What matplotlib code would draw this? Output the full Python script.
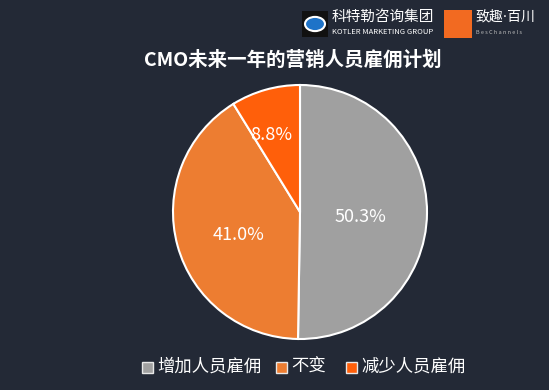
import matplotlib.pyplot as plt
from matplotlib.patches import Rectangle, Circle

plt.rcParams['font.family'] = ['Noto Sans CJK SC', 'DejaVu Sans']

# Data
categories = ["增加人员雇佣", "不变", "减少人员雇佣"]
shares = [50.3, 41.0, 8.8]
colors = ["#A0A0A0", "#ED7D31", "#FF5F0A"]
title = "CMO未来一年的营销人员雇佣计划"

BG = "#232936"
W, H = 549, 390

fig = plt.figure(figsize=(W / 100, H / 100), dpi=100, facecolor=BG)

def px(x, y):
    return x / W, 1 - y / H

# Pie axes placed in pixel space
cx, cy, r = 300, 212, 127
ax = fig.add_axes([(cx - r) / W, 1 - (cy + r) / H, 2 * r / W, 2 * r / H])
ax.set_facecolor(BG)
wedges, _ = ax.pie(
    shares,
    colors=colors,
    startangle=90,
    counterclock=False,
    wedgeprops=dict(edgecolor="white", linewidth=1.5),
)
ax.set_xlim(-1, 1)
ax.set_ylim(-1, 1)
ax.set_aspect("equal")
ax.axis("off")

# percentage labels (positions tuned to reference)
label_pos = [(0.48, -0.04), (-0.48, -0.18), (-0.23, 0.61)]
for (lx, ly), v in zip(label_pos, shares):
    ax.text(lx, ly, f"{v:.1f}%", ha="center", va="center", color="white",
            fontsize=13)

# Title
fig.text(*px(293, 60), title, ha="center", va="center", color="white",
         fontsize=14, fontweight="bold")

# Legend
leg_items = [(142, 0), (276, 1), (346, 2)]
for x0, i in leg_items:
    fx, fy = px(x0, 373)
    fig.patches.append(Rectangle((fx, fy), 11 / W, 11 / H, transform=fig.transFigure,
                                 facecolor=colors[i], edgecolor="#E8E8E8", linewidth=1))
    fig.text(*px(x0 + 15, 367), categories[i], ha="left", va="center",
             color="white", fontsize=12.5)

# Logos (top right)
fig.patches.append(Rectangle(px(302, 37), 26 / W, 26 / H, transform=fig.transFigure,
                             facecolor="#111111", edgecolor="none"))
fig.patches.append(Circle(px(315, 24), 10 / W, transform=fig.transFigure,
                          facecolor="#1E73C8", edgecolor="white", linewidth=1.5))
fig.text(*px(332, 17), "科特勒咨询集团", ha="left", va="center", color="white",
         fontsize=10.5)
fig.text(*px(332, 32), "KOTLER MARKETING GROUP", ha="left", va="center",
         color="white", fontsize=5.5)
fig.patches.append(Rectangle(px(444, 38), 28 / W, 28 / H, transform=fig.transFigure,
                             facecolor="#F26A21", edgecolor="none"))
fig.text(*px(475, 17), "致趣·百川", ha="left", va="center", color="white",
         fontsize=10, family=["DejaVu Sans", "Noto Sans CJK SC"])
fig.text(*px(476, 32), "B e s C h a n n e l s", ha="left", va="center",
         color="#BBBBBB", fontsize=4)

fig.savefig("out.png", dpi=100, facecolor=BG)
